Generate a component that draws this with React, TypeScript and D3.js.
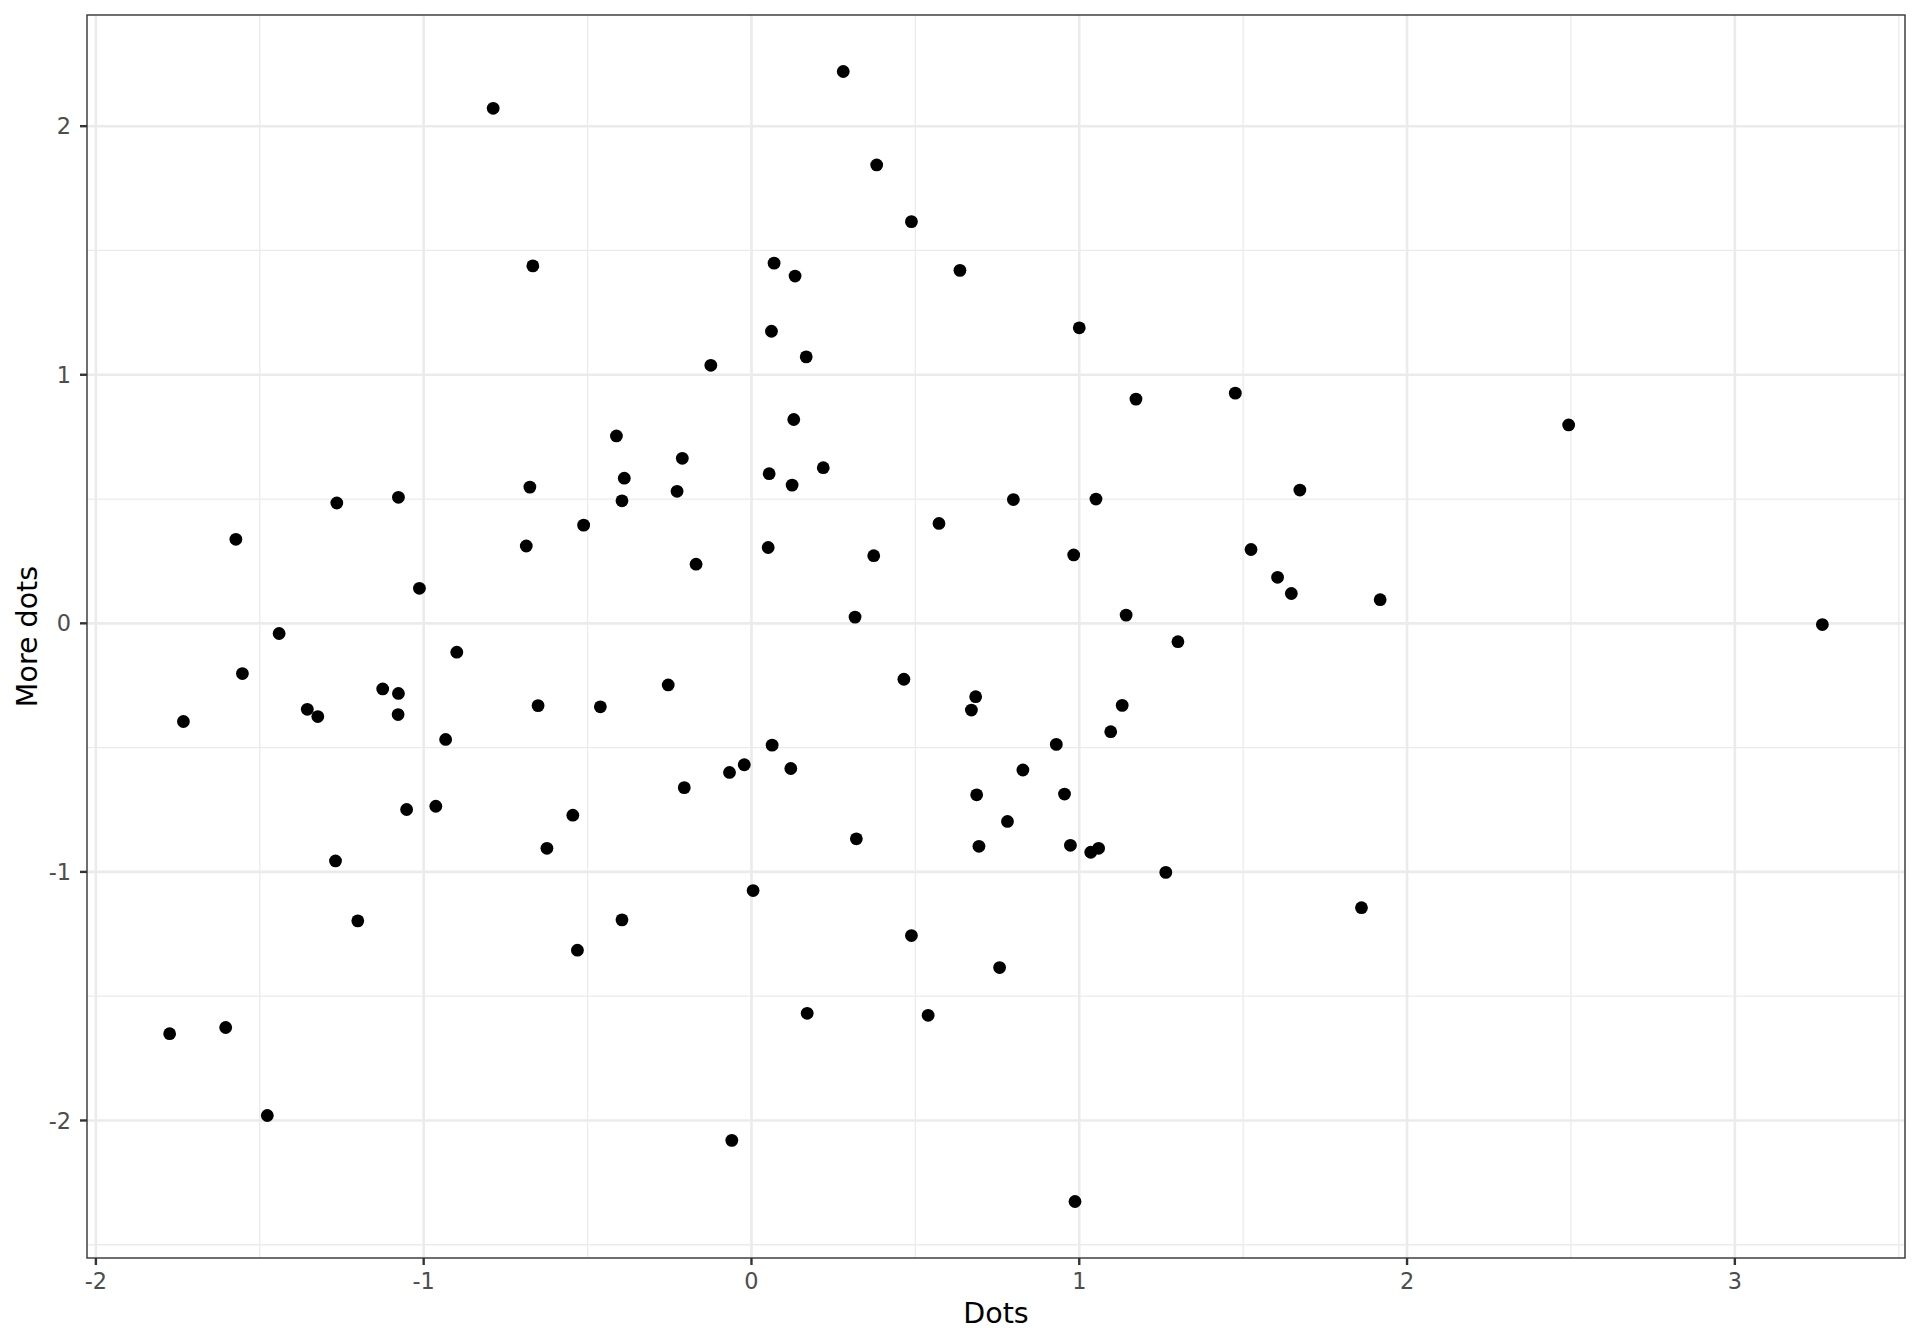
import React from "react";
import * as d3 from "d3";

const dotsX: number[] = [
  -0.788, -0.667, -0.412, -0.211, -0.676, -0.388, -0.227, -0.395, -1.265, -1.077,
  -1.573, -0.512, -0.687, -0.169, -1.013, -1.441,
  0.28, 0.382, 0.488, 0.069, 0.133, 0.636, 1.0, 0.061, 0.167, -0.124,
  1.173, 1.476, 0.129, 0.054, 0.219, 0.124, 0.799, 1.051, 1.673, 0.572,
  0.051, 0.373, 0.983, 1.524, 1.605, 1.647, 0.316, 1.143,
  2.493, 1.918, 3.267,
  -1.553, -1.733, -0.899, -1.355, -1.323, -1.125, -1.077, -1.078, -0.651, -0.461,
  -0.254, -0.933, -0.205, -1.052, -0.963, -0.545, -0.624, -1.269, -1.201, -0.395,
  -0.531, -1.775, -1.604, -1.477,
  1.301, 0.465, 0.684, 0.671, 1.131, 1.096, 0.063, -0.067, -0.022, 0.12,
  0.93, 0.828, 0.687, 0.955, 0.781, 0.32, 0.694, 0.973, 1.035, 1.059,
  1.264, 0.005, 0.488, 0.757, 0.17, 0.539, -0.06, 0.987,
  1.861,
];

const moreDotsY: number[] = [
  2.072, 1.438, 0.754, 0.664, 0.548, 0.584, 0.531, 0.493, 0.484, 0.507,
  0.338, 0.395, 0.311, 0.238, 0.141, -0.041,
  2.22, 1.844, 1.616, 1.449, 1.397, 1.42, 1.189, 1.175, 1.072, 1.038,
  0.902, 0.926, 0.82, 0.602, 0.626, 0.556, 0.498, 0.5, 0.536, 0.402,
  0.305, 0.272, 0.275, 0.297, 0.185, 0.12, 0.025, 0.033,
  0.798, 0.095, -0.005,
  -0.202, -0.395, -0.116, -0.346, -0.375, -0.264, -0.282, -0.367, -0.331, -0.336,
  -0.248, -0.467, -0.661, -0.749, -0.736, -0.772, -0.905, -0.956, -1.197, -1.193,
  -1.315, -1.651, -1.626, -1.98,
  -0.074, -0.225, -0.295, -0.349, -0.33, -0.436, -0.49, -0.6, -0.569, -0.584,
  -0.487, -0.59, -0.69, -0.687, -0.797, -0.867, -0.897, -0.893, -0.921, -0.905,
  -1.002, -1.075, -1.256, -1.385, -1.569, -1.577, -2.08, -2.326,
  -1.144,
];

const xMajorTicks: number[] = [-2, -1, 0, 1, 2, 3];
const xMinorTicks: number[] = [-1.5, -0.5, 0.5, 1.5, 2.5, 3.5];
const yMajorTicks: number[] = [-2, -1, 0, 1, 2];
const yMinorTicks: number[] = [-2.5, -1.5, -0.5, 0.5, 1.5];

const xTitle = "Dots";
const yTitle = "More dots";

const W = 1920;
const H = 1344;
const panel = { left: 87, right: 1905, top: 15, bottom: 1258 };

function expand(vals: number[]): [number, number] {
  const [lo, hi] = d3.extent(vals) as [number, number];
  const pad = (hi - lo) * 0.05;
  return [lo - pad, hi + pad];
}

export default function App() {
  const x = d3.scaleLinear().domain(expand(dotsX)).range([panel.left, panel.right]);
  const y = d3.scaleLinear().domain(expand(moreDotsY)).range([panel.bottom, panel.top]);
  const inX = (v: number) => x(v) >= panel.left && x(v) <= panel.right;
  const inY = (v: number) => y(v) >= panel.top && y(v) <= panel.bottom;
  const font = "'DejaVu Sans', sans-serif";
  const points = dotsX.map((d, i) => [d, moreDotsY[i]]);

  return (
    <svg
      width={W}
      height={H}
      style={{ position: "absolute", left: 0, top: 0, background: "#fff" }}
      fontFamily={font}
    >
      <rect x={0} y={0} width={W} height={H} fill="#fff" />
      <rect
        x={panel.left}
        y={panel.top}
        width={panel.right - panel.left}
        height={panel.bottom - panel.top}
        fill="#fff"
      />
      {xMinorTicks.filter(inX).map((t) => (
        <line key={"xm" + t} x1={x(t)} x2={x(t)} y1={panel.top} y2={panel.bottom} stroke="#EBEBEB" strokeWidth={1.3} />
      ))}
      {yMinorTicks.filter(inY).map((t) => (
        <line key={"ym" + t} y1={y(t)} y2={y(t)} x1={panel.left} x2={panel.right} stroke="#EBEBEB" strokeWidth={1.3} />
      ))}
      {xMajorTicks.map((t) => (
        <line key={"xM" + t} x1={x(t)} x2={x(t)} y1={panel.top} y2={panel.bottom} stroke="#EBEBEB" strokeWidth={2.6} />
      ))}
      {yMajorTicks.map((t) => (
        <line key={"yM" + t} y1={y(t)} y2={y(t)} x1={panel.left} x2={panel.right} stroke="#EBEBEB" strokeWidth={2.6} />
      ))}
      {points.map(([px, py], i) => (
        <circle key={i} cx={x(px)} cy={y(py)} r={6.4} fill="#000" />
      ))}
      <rect
        x={panel.left}
        y={panel.top}
        width={panel.right - panel.left}
        height={panel.bottom - panel.top}
        fill="none"
        stroke="#333333"
        strokeWidth={1.4}
      />
      {xMajorTicks.map((t) => (
        <g key={"xt" + t}>
          <line x1={x(t)} x2={x(t)} y1={panel.bottom} y2={panel.bottom + 7} stroke="#333333" strokeWidth={2.4} />
          <text x={x(t)} y={1289} textAnchor="middle" fontSize={22.4} fill="#4D4D4D">
            {t}
          </text>
        </g>
      ))}
      {yMajorTicks.map((t) => (
        <g key={"yt" + t}>
          <line x1={panel.left - 7} x2={panel.left} y1={y(t)} y2={y(t)} stroke="#333333" strokeWidth={2.4} />
          <text x={71} y={y(t)} dy="0.36em" textAnchor="end" fontSize={22.4} fill="#4D4D4D">
            {t}
          </text>
        </g>
      ))}
      <text x={(panel.left + panel.right) / 2} y={1323} textAnchor="middle" fontSize={28.5} fill="#000">
        {xTitle}
      </text>
      <text
        transform={`translate(36.7, ${(panel.top + panel.bottom) / 2}) rotate(-90)`}
        textAnchor="middle"
        fontSize={28.5}
        fill="#000"
      >
        {yTitle}
      </text>
    </svg>
  );
}
